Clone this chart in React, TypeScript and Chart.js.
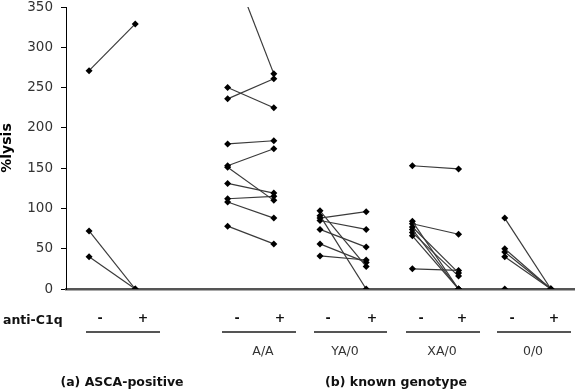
import React, { useEffect, useRef } from 'react';
import { Chart, registerables } from 'chart.js';

Chart.register(...registerables);

// ---------- data ----------
const groupNames = ['(a) ASCA-positive', 'A/A', 'YA/0', 'XA/0', '0/0'];
const groupSlots = [0, 3, 5, 7, 9]; // x slot of the '-' column of each group ('+' is slot + 1)
const treatmentLabels = ['-', '+'];
const axisLabel = 'anti-C1q';
const panelLabels = ['(a) ASCA-positive', '(b) known genotype'];
const yTicks = [0, 50, 100, 150, 200, 250, 300, 350];

const ascaMinus = [271, 72, 40];
const ascaPlus = [329, 0, 0];
const aaMinus = [415, 236, 250, 180, 153, 151, 131, 112, 108, 78];
const aaPlus = [267, 261, 225, 184, 174, 110, 119, 115, 88, 56];
const ya0Minus = [97, 88, 91, 85, 74, 56, 41];
const ya0Plus = [28, 96, 0, 74, 52, 33, 36];
const xa0Minus = [153, 84, 81, 77, 74, 70, 66, 25];
const xa0Plus = [149, 0, 68, 20, 0, 16, 0, 23];
const o0Minus = [88, 50, 46, 40, 0];
const o0Plus = [0, 0, 0, 0, 0];

const groupMinus = [ascaMinus, aaMinus, ya0Minus, xa0Minus, o0Minus];
const groupPlus = [ascaPlus, aaPlus, ya0Plus, xa0Plus, o0Plus];

// ---------- annotation layout (pixels) ----------
const minusX = [100, 237, 328, 421, 512];
const plusX = [143, 280, 372, 462, 554];
const barFrom = [86, 222, 314, 406, 497];
const barTo = [160, 296, 387, 480, 571];
const nameX = [0, 263, 345, 442, 533];
const panelX = [122, 396];

const FONT = "'DejaVu Sans', sans-serif";

const annotationPlugin = {
  id: 'annotations',
  afterDraw(chart: any) {
    const ctx = chart.ctx as CanvasRenderingContext2D;
    ctx.save();
    ctx.fillStyle = '#111';
    ctx.textBaseline = 'alphabetic';
    ctx.font = `bold 12.5px ${FONT}`;
    ctx.textAlign = 'left';
    ctx.fillText(axisLabel, 3, 324);
    ctx.textAlign = 'center';
    for (let g = 0; g < groupSlots.length; g++) {
      ctx.font = `bold 12.5px ${FONT}`;
      ctx.fillText(treatmentLabels[0], minusX[g], 322);
      ctx.fillText(treatmentLabels[1], plusX[g], 322);
      ctx.strokeStyle = '#555';
      ctx.lineWidth = 2;
      ctx.beginPath();
      ctx.moveTo(barFrom[g], 332);
      ctx.lineTo(barTo[g], 332);
      ctx.stroke();
      if (g > 0) {
        ctx.font = `12.5px ${FONT}`;
        ctx.fillStyle = '#333';
        ctx.fillText(groupNames[g], nameX[g], 355);
        ctx.fillStyle = '#111';
      }
    }
    ctx.font = `bold 12.5px ${FONT}`;
    ctx.fillText(panelLabels[0], panelX[0], 386);
    ctx.fillText(panelLabels[1], panelX[1], 386);
    ctx.restore();
  },
};

export default function App() {
  const ref = useRef<HTMLCanvasElement | null>(null);

  useEffect(() => {
    if (!ref.current) return;
    const datasets: any[] = [];
    groupSlots.forEach((slot, g) => {
      groupMinus[g].forEach((v, i) => {
        datasets.push({
          data: [
            { x: slot, y: v },
            { x: slot + 1, y: groupPlus[g][i] },
          ],
          borderColor: '#3a3a3a',
          borderWidth: 1.2,
          pointStyle: 'rectRot',
          pointRadius: 3.5,
          pointBackgroundColor: '#000',
          pointBorderColor: '#000',
          pointBorderWidth: 0,
          showLine: true,
          fill: false,
        });
      });
    });

    const chart = new Chart(ref.current, {
      type: 'scatter',
      data: { datasets },
      plugins: [annotationPlugin],
      options: {
        animation: false,
        responsive: true,
        maintainAspectRatio: false,
        layout: { padding: { top: 7, left: 0, right: 0, bottom: 0 } },
        plugins: { legend: { display: false }, tooltip: { enabled: false } },
        scales: {
          x: {
            type: 'linear',
            min: -0.5,
            max: 10.5,
            ticks: { display: false },
            grid: { display: false, drawTicks: false },
            border: { display: true, color: '#555', width: 2.5 },
            afterFit: (s: any) => {
              s.height = 103;
              s.paddingLeft = 0;
              s.paddingRight = 0;
            },
          },
          y: {
            type: 'linear',
            min: 0,
            max: 350,
            afterBuildTicks: (s: any) => {
              s.ticks = yTicks.map((v) => ({ value: v }));
            },
            ticks: {
              color: '#333',
              font: { family: FONT, size: 13.5, lineHeight: 1.05 },
              padding: 8,
            },
            grid: { drawOnChartArea: false, drawTicks: true, tickLength: 5, color: '#000' },
            border: { display: true, color: '#000', width: 1 },
            title: {
              display: true,
              text: '%lysis',
              color: '#000',
              font: { family: FONT, size: 14, weight: 'bold', lineHeight: 1 },
              padding: 0,
            },
            afterFit: (s: any) => {
              s.width = 66;
              s.paddingTop = 0;
              s.paddingBottom = 0;
            },
          },
        },
      },
    });
    return () => chart.destroy();
  }, []);

  return (
    <div style={{ position: 'fixed', left: 0, top: 0, width: 578, height: 392, background: '#fff' }}>
      <canvas ref={ref} />
    </div>
  );
}
